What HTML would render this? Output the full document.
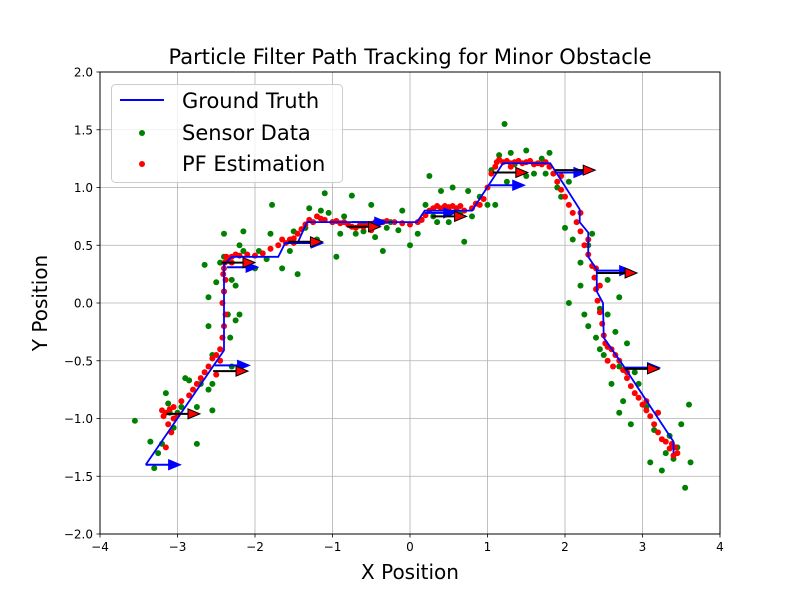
<!DOCTYPE html>
<html><head><meta charset="utf-8"><style>
html,body{margin:0;padding:0;background:#fff;}
svg{display:block;font-family:"DejaVu Sans","Liberation Sans",sans-serif;}
</style></head><body>
<svg id="chart" width="800" height="600" viewBox="0 0 800 600" xmlns="http://www.w3.org/2000/svg">
<rect width="800" height="600" fill="#fff"/>
<g id="grid"></g>
<g id="ticks"></g>
<g id="plot"></g>
<rect x="100" y="72" width="620" height="462" fill="none" stroke="#000" stroke-width="1"/>
<text x="410" y="64" text-anchor="middle" font-size="21">Particle Filter Path Tracking for Minor Obstacle</text>
<text x="410" y="579" text-anchor="middle" font-size="20">X Position</text>
<text x="47" y="303" text-anchor="middle" font-size="20" transform="rotate(-90 47 303)">Y Position</text>
<g>
<rect x="111.5" y="84.5" width="231" height="98" rx="4" fill="#fff" fill-opacity="0.8" stroke="#ccc"/>
<line x1="120" y1="100" x2="164" y2="100" stroke="#0000ff" stroke-width="2"/>
<text x="182" y="108" font-size="21">Ground Truth</text>
<circle cx="142" cy="133" r="3" fill="green"/>
<text x="182" y="140" font-size="21">Sensor Data</text>
<circle cx="142" cy="164" r="3" fill="red"/>
<text x="182" y="171" font-size="21">PF Estimation</text>
</g>
</svg>
<script>
const xTicks=[-4,-3,-2,-1,0,1,2,3,4];
const yTicks=[-2.0,-1.5,-1.0,-0.5,0.0,0.5,1.0,1.5,2.0];
const gtX=[-3.41,-2.40,-2.40,-2.30,-1.70,-1.61,-1.45,-1.33,0.09,0.19,0.80,1.20,1.81,2.19,2.19,2.30,2.30,2.41,2.41,2.49,2.50,2.77,3.40,3.40];
const gtY=[-1.40,-0.41,0.33,0.40,0.40,0.52,0.52,0.70,0.70,0.80,0.80,1.21,1.21,0.81,0.70,0.61,0.40,0.29,0.10,0.00,-0.30,-0.56,-1.20,-1.30];
const gtArrowX=[-3.41,-2.52,-2.36,-1.62,-0.75,0.19,1.03,1.87,2.41,2.77];
const gtArrowY=[-1.40,-0.54,0.31,0.52,0.70,0.78,1.02,1.13,0.28,-0.56];
const gtArrowLen=[0.45,0.45,0.4,0.5,0.45,0.4,0.45,0.4,0.45,0.45];
const pfArrowX=[-3.14,-2.54,-2.43,-1.57,-0.81,0.28,1.07,1.87,2.41,2.77];
const pfArrowY=[-0.96,-0.59,0.35,0.53,0.66,0.75,1.13,1.15,0.26,-0.57];
const pfArrowLen=[0.43,0.45,0.43,0.44,0.43,0.45,0.45,0.52,0.52,0.45];
const sensorX=[
-3.55,-3.35,-3.3,-3.25,-3.2,-3.15,-3.12,-3.05,-3.0,-2.95,
-2.85,-2.75,-2.7,-2.75,-2.6,-2.55,-2.55,-2.6,-2.55,-2.6,
-2.65,-2.5,-2.45,-2.4,-2.3,-2.25,-2.2,-2.25,-2.32,-2.2,
-2.15,-2.0,-1.95,-1.8,-1.78,-1.85,-1.55,-1.5,-1.45,-1.35,
-1.3,-1.2,-1.15,-1.1,-0.95,-0.9,-0.85,-0.75,-0.7,-0.6,
-0.5,-0.45,-0.35,-0.25,-0.15,-0.1,0.0,0.1,0.2,0.25,
0.3,0.4,0.5,0.6,0.7,0.75,0.8,0.9,1.0,1.05,
1.1,1.15,1.22,1.3,1.35,1.5,1.6,1.7,1.8,1.9,
1.95,2.0,2.05,2.1,2.2,2.3,2.35,2.2,2.25,2.3,
2.4,2.5,2.55,2.65,2.7,2.8,2.7,2.6,2.75,2.85,
2.95,3.05,3.15,3.1,3.2,3.25,3.3,3.4,3.45,3.5,
3.55,3.6,3.62,2.05,1.5,0.55,-0.3,-1.65,-2.4,-2.9,
2.45,2.7,-3.1,-2.35,-2.4,-2.3,-1.0,-0.6,0.35,0.65,
1.4,1.25,2.45,2.55,2.9,3.35,-2.15,-1.05,0.15,1.75];
const sensorY=[
-1.02,-1.2,-1.43,-1.3,-1.22,-0.78,-0.87,-1.08,-0.95,-0.9,
-0.67,-1.22,-0.7,-0.9,-0.75,-0.93,-0.7,-0.2,-0.45,0.05,
0.33,0.18,0.35,0.4,0.2,0.15,-0.1,-0.15,-0.3,0.5,
0.62,0.3,0.45,0.6,0.85,0.38,0.45,0.62,0.25,0.65,
0.82,0.55,0.8,0.95,0.4,0.6,0.75,0.93,0.6,0.68,
0.85,0.57,0.45,0.7,0.63,0.8,0.5,0.6,0.85,1.1,
0.75,0.97,0.7,0.8,0.53,0.97,0.75,0.92,0.85,1.15,
0.85,1.28,1.55,1.3,1.2,1.32,1.12,1.25,1.3,1.0,
0.92,0.65,1.05,0.55,0.35,0.5,0.6,0.15,-0.1,-0.2,
-0.3,-0.45,-0.1,-0.25,0.05,-0.35,-0.55,-0.7,-0.85,-1.05,
-0.7,-0.9,-1.1,-1.38,-0.95,-1.45,-1.3,-1.35,-1.25,-1.05,
-1.6,-0.88,-1.38,0.0,1.1,1.0,0.65,0.3,0.6,-0.65,
-0.4,-0.95,-0.95,-0.1,0.1,-0.55,0.7,0.62,0.7,0.78,
1.12,1.05,-0.05,0.2,-0.6,-1.15,0.45,0.78,0.72,1.12];
const pfX=[
-3.2,-3.15,-3.1,-3.05,-3.0,-3.12,-3.18,-3.05,-3.08,-3.15,
-2.95,-2.85,-2.8,-2.75,-2.7,-2.65,-2.6,-2.55,-2.5,-2.45,
-2.5,-2.45,-2.42,-2.4,-2.38,-2.42,-2.4,-2.38,-2.41,-2.4,
-2.39,-2.37,-2.35,-2.3,-2.25,-2.2,-2.1,-2.0,-1.9,-1.8,
-1.7,-1.65,-1.6,-1.55,-1.5,-1.45,-1.4,-1.35,-1.3,-1.25,
-1.2,-1.15,-1.1,-1.0,-0.95,-0.9,-0.85,-0.8,-0.75,-0.7,
-0.65,-0.6,-0.55,-0.5,-0.45,-0.4,-0.35,-0.3,-0.2,-0.1,
0.0,0.1,0.15,0.2,0.25,0.3,0.35,0.4,0.45,0.5,
0.55,0.6,0.65,0.7,0.8,0.85,0.9,0.95,1.0,1.05,
1.1,1.12,1.15,1.2,1.25,1.3,1.35,1.4,1.45,1.5,
1.55,1.6,1.65,1.7,1.75,1.8,1.85,1.9,1.95,2.0,
2.05,2.1,2.15,2.2,2.25,2.3,2.35,2.38,2.4,2.42,
2.45,2.48,2.5,2.52,2.55,2.6,2.65,2.7,2.75,2.8,
2.85,2.9,2.95,3.0,3.05,3.1,3.15,3.2,3.25,3.3,
3.35,3.4,3.42,3.45,3.38,2.55,2.62,2.8,3.05,3.2,
2.4,2.45,2.3,2.2,1.95,1.3,0.5,-0.5,-1.5,-2.3];
const pfY=[
-0.93,-0.95,-0.92,-1.0,-0.97,-1.05,-0.98,-0.9,-1.12,-1.25,
-0.85,-0.8,-0.75,-0.7,-0.65,-0.6,-0.55,-0.48,-0.45,-0.5,
-0.62,-0.4,-0.3,-0.2,-0.1,0.0,0.1,0.2,0.25,0.3,
0.35,0.4,0.38,0.4,0.42,0.41,0.42,0.41,0.43,0.47,
0.5,0.55,0.52,0.55,0.56,0.6,0.64,0.68,0.72,0.7,
0.75,0.73,0.72,0.7,0.71,0.69,0.7,0.68,0.66,0.65,
0.67,0.66,0.68,0.67,0.7,0.69,0.7,0.71,0.7,0.69,
0.68,0.7,0.72,0.76,0.8,0.82,0.84,0.82,0.84,0.83,
0.84,0.82,0.84,0.8,0.82,0.86,0.85,0.9,1.0,1.12,
1.18,1.22,1.24,1.22,1.23,1.21,1.22,1.23,1.21,1.22,
1.23,1.2,1.21,1.2,1.22,1.18,1.12,1.05,0.98,0.92,
0.85,0.78,0.7,0.62,0.5,0.42,0.32,0.22,0.12,0.02,
-0.08,-0.18,-0.28,-0.35,-0.38,-0.4,-0.45,-0.5,-0.58,-0.65,
-0.72,-0.78,-0.82,-0.88,-0.93,-0.98,-1.05,-1.12,-1.18,-1.2,
-1.26,-1.32,-1.25,-1.3,-1.22,-0.5,-0.55,-0.6,-0.85,-0.95,
0.3,0.15,0.55,0.78,1.1,1.18,0.8,0.63,0.52,0.35];

const X0=100,X1=720,Y0=534,Y1=72;
const sx=v=>X0+(v+4)/8*(X1-X0);
const sy=v=>Y0-(v+2)/4*(Y0-Y1);
const NS='http://www.w3.org/2000/svg';
function mk(tag,parent,attrs){const e=document.createElementNS(NS,tag);for(const k in attrs)e.setAttribute(k,attrs[k]);parent.appendChild(e);return e;}
const grid=document.getElementById('grid'),ticks=document.getElementById('ticks'),plot=document.getElementById('plot');
xTicks.forEach(t=>{
  const g=mk('line',grid,{x1:sx(t),x2:sx(t),y1:Y1,y2:Y0,stroke:'#b0b0b0','stroke-width':0.8});
  
  
  const tk=mk('line',ticks,{x1:sx(t),x2:sx(t),y1:Y0,y2:Y0+3.5,stroke:'#000','stroke-width':0.8});
  
  
  const tx=mk('text',ticks,{x:sx(t),y:Y0+17,'text-anchor':'middle','font-size':12});
  tx.textContent=(t<0?'\u2212':'')+Math.abs(t);
  
  
});
yTicks.forEach(t=>{
  const g=mk('line',grid,{x1:X0,x2:X1,y1:sy(t),y2:sy(t),stroke:'#b0b0b0','stroke-width':0.8});
  
  
  const tk=mk('line',ticks,{x1:X0-3.5,x2:X0,y1:sy(t),y2:sy(t),stroke:'#000','stroke-width':0.8});
  
  
  const tx=mk('text',ticks,{x:X0-7,y:sy(t)+4.5,'text-anchor':'end','font-size':12});
  tx.textContent=(t<0?'\u2212':'')+Math.abs(t).toFixed(1);
  
  
});
sensorX.forEach((x,i)=>{
  const c=mk('circle',plot,{cx:sx(x),cy:sy(sensorY[i]),r:3,fill:'green'});
  
  
});
pfX.forEach((x,i)=>{
  const c=mk('circle',plot,{cx:sx(x),cy:sy(pfY[i]),r:3,fill:'red'});
  
  
});
const line=mk('polyline',plot,{points:gtX.map((x,i)=>sx(x)+','+sy(gtY[i])).join(' '),fill:'none',stroke:'#0000ff','stroke-width':1.8});


function arrow(x,y,len,lineCol,headFill,headStroke,name){
  const x0=sx(x),y0=sy(y),x1=sx(x+len);
  const g=mk('g',plot,{});
  
  
  mk('line',g,{x1:x0,y1:y0,x2:x1-10,y2:y0,stroke:lineCol,'stroke-width':2});
  mk('polygon',g,{points:`${x1-12},${y0-5} ${x1},${y0} ${x1-12},${y0+5}`,fill:headFill,stroke:headStroke,'stroke-width':1});
}
gtArrowX.forEach((x,i)=>arrow(x,gtArrowY[i],gtArrowLen[i],'#0000ff','#0000ff','#0000ff','ground-truth-heading-arrow'));
pfArrowX.forEach((x,i)=>arrow(x,pfArrowY[i],pfArrowLen[i],'#000','red','#000','pf-heading-arrow'));
</script>
</body></html>
